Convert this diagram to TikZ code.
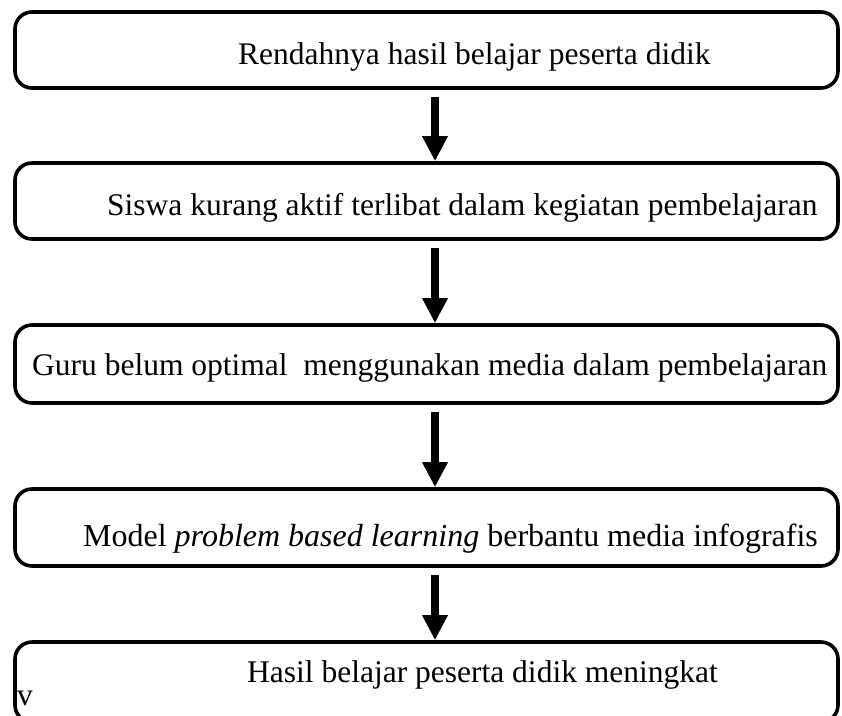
\documentclass[tikz,border=0pt]{standalone}
\usepackage{fontspec}
\setmainfont{Liberation Serif}
\usetikzlibrary{arrows.meta}

\begin{document}
\begin{tikzpicture}[x=1pt,y=-1pt,
    stepbox/.style={draw, line width=3.6pt, rounded corners=17pt, minimum width=823pt, inner sep=0pt},
    flow/.style={-{Triangle[width=24pt,length=25pt]}, line width=8pt, shorten <=7pt},
    boxtext/.style={anchor=base west, inner sep=0pt, font=\fontsize{31.5}{36}\selectfont}]
    % Shift of the arrows from the box centres
    \newcommand{\flowshift}{8.5}

    \useasboundingbox (0,0) rectangle (842,715);
    \clip (0,0) rectangle (842,715);

    % Boxes of the flow
    \node[stepbox, minimum height=76pt] (b1) at (426.5,50) {};
    \node[stepbox, minimum height=76pt] (b2) at (426.5,201) {};
    \node[stepbox, minimum height=78pt] (b3) at (426.5,364) {};
    \node[stepbox, minimum height=77pt] (b4) at (426.5,527.5) {};
    \node[stepbox, minimum height=80pt] (b5) at (426.5,682) {};

    % Texts in the boxes
    \node[boxtext] (t1) at (238,64) {Rendahnya hasil belajar peserta didik};
    \node[boxtext] (t2) at (107,215) {Siswa kurang aktif terlibat dalam kegiatan pembelajaran};
    \node[boxtext] (t3) at (32,375) {Guru belum optimal\ \ menggunakan media dalam pembelajaran};
    \node[boxtext, font=\fontsize{32}{36}\selectfont] (t4) at (83,546) {Model \textit{problem based learning} berbantu media infografis};
    \node[boxtext] (t5) at (247,682) {Hasil belajar peserta didik meningkat};
    \node[boxtext] (v) at (17,705) {v};

    % Arrows between the boxes
    \foreach \a/\b in {b1/b2,b2/b3,b3/b4,b4/b5}
        \draw[flow] ([xshift=\flowshift pt]\a.south) -- ([xshift=\flowshift pt]\b.north);
\end{tikzpicture}
\end{document}
